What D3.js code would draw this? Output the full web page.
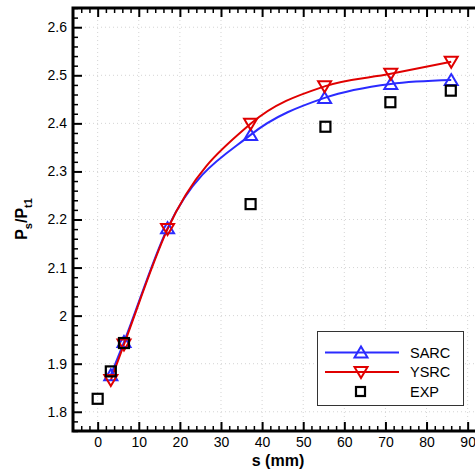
<!DOCTYPE html>
<html>
<head>
<meta charset="utf-8">
<script src="https://cdn.jsdelivr.net/npm/d3@7"></script>
<style>
  body { margin: 0; background: #fff }
  svg { display: block; font-family: 'Liberation Sans', Arial, sans-serif }
</style>
</head>
<body>
<svg id="chart" width="475" height="471"></svg>
<script>
const sarcS = [3.2, 6.4, 17.0, 37.2, 55.2, 71.3, 86.0]
const sarcP = [1.876, 1.945, 2.182, 2.376, 2.453, 2.482, 2.490]

const ysrcS = [3.2, 6.4, 17.0, 37.2, 55.2, 71.3, 86.0]
const ysrcP = [1.866, 1.940, 2.180, 2.399, 2.477, 2.503, 2.528]

const expS = [0, 3.2, 6.4, 37.2, 55.4, 71.2, 85.9]
const expP = [1.827, 1.884, 1.943, 2.232, 2.393, 2.444, 2.468]

const xTicks = [0, 10, 20, 30, 40, 50, 60, 70, 80, 90]
const yTicks = [1.8, 1.9, 2.0, 2.1, 2.2, 2.3, 2.4, 2.5, 2.6]
const legendNames = ['SARC', 'YSRC', 'EXP']

const svg = d3.select('#chart')
const plotLeft = 73
const plotTop = 8
const plotBottom = 431
const x = d3.scaleLinear().domain([-6, 96]).range([plotLeft, plotLeft + 102 * 4.111])
const y = d3.scaleLinear().domain([1.76, 2.64]).range([plotBottom, plotTop])
const plotRight = x.range()[1]

// dotted grid at major ticks
const grid = svg.append('g')
  .attr('stroke', '#d4d4d4')
  .attr('stroke-width', 1)
  .attr('stroke-dasharray', '1,3')
grid.selectAll('.gx').data(xTicks).enter().append('line')
  .attr('x1', d => x(d)).attr('x2', d => x(d))
  .attr('y1', plotTop).attr('y2', plotBottom)
grid.selectAll('.gy').data(yTicks).enter().append('line')
  .attr('x1', plotLeft).attr('x2', plotRight)
  .attr('y1', d => y(d)).attr('y2', d => y(d))

const fmt = d => d3.format('.1f')(d).replace(/\.0$/, '')
const xMinor = d3.range(-4, 96, 2).filter(v => v % 10 !== 0)
const yMinor = d3.range(1.76, 2.645, 0.02).map(v => +v.toFixed(2)).filter(v => Math.abs(v * 10 - Math.round(v * 10)) > 1e-6)

function styleAxis (g) {
  g.select('.domain').remove()
  g.selectAll('.tick line').attr('stroke', '#000').attr('stroke-width', 2)
  g.selectAll('.tick text').attr('fill', '#000').style('font-size', '14px')
}

function minorAxis (axis, scale, vals) {
  return axis(scale).tickValues(vals).tickSize(-5).tickFormat('')
}

// bottom axis
svg.append('g').attr('transform', `translate(0,${plotBottom})`)
  .call(minorAxis(d3.axisBottom, x, xMinor)).call(styleAxis)
  .selectAll('.tick line').attr('stroke-width', 1.5)
svg.append('g').attr('transform', `translate(0,${plotBottom})`)
  .call(d3.axisBottom(x).tickValues(xTicks).tickSize(-9).tickPadding(6).tickFormat(d3.format('d')))
  .call(styleAxis)

// top axis
svg.append('g').attr('transform', `translate(0,${plotTop})`)
  .call(minorAxis(d3.axisTop, x, xMinor)).call(styleAxis)
  .selectAll('.tick line').attr('stroke-width', 1.5)
svg.append('g').attr('transform', `translate(0,${plotTop})`)
  .call(d3.axisTop(x).tickValues(xTicks).tickSize(-9).tickFormat(''))
  .call(styleAxis)

// left axis
svg.append('g').attr('transform', `translate(${plotLeft},0)`)
  .call(minorAxis(d3.axisLeft, y, yMinor)).call(styleAxis)
  .selectAll('.tick line').attr('stroke-width', 1.5)
svg.append('g').attr('transform', `translate(${plotLeft},0)`)
  .call(d3.axisLeft(y).tickValues(yTicks).tickSize(-9).tickPadding(6).tickFormat(fmt))
  .call(styleAxis)

// frame lines
svg.append('path')
  .attr('d', `M${plotRight},${plotTop}H${plotLeft}V${plotBottom}H${plotRight}`)
  .attr('fill', 'none').attr('stroke', '#000').attr('stroke-width', 3)

const line = d3.line().x(d => x(d[0])).y(d => y(d[1])).curve(d3.curveMonotoneX)
const sarc = d3.zip(sarcS, sarcP)
const ysrc = d3.zip(ysrcS, ysrcP)
const exp = d3.zip(expS, expP)

svg.append('path').datum(sarc).attr('d', line)
  .attr('fill', 'none').attr('stroke', '#2b2bff').attr('stroke-width', 2)
svg.append('path').datum(ysrc).attr('d', line)
  .attr('fill', 'none').attr('stroke', '#e00000').attr('stroke-width', 2)

const triUp = 'M0,-6L6.5,5L-6.5,5Z'
const triDown = 'M0,6L6.5,-5L-6.5,-5Z'

svg.append('g').selectAll('path').data(sarc).enter().append('path')
  .attr('transform', d => `translate(${x(d[0])},${y(d[1])})`)
  .attr('d', triUp).attr('fill', 'none').attr('stroke', '#2b2bff').attr('stroke-width', 2)
svg.append('g').selectAll('path').data(ysrc).enter().append('path')
  .attr('transform', d => `translate(${x(d[0])},${y(d[1])})`)
  .attr('d', triDown).attr('fill', 'none').attr('stroke', '#e00000').attr('stroke-width', 2)
svg.append('g').selectAll('rect').data(exp).enter().append('rect')
  .attr('x', d => x(d[0]) - 5).attr('y', d => y(d[1]) - 5)
  .attr('width', 10).attr('height', 10)
  .attr('fill', 'none').attr('stroke', '#000').attr('stroke-width', 2.2)

// legend
const legend = svg.append('g')
legend.append('rect')
  .attr('x', 317.5).attr('y', 331.5).attr('width', 146).attr('height', 74)
  .attr('fill', '#fff').attr('stroke', '#333').attr('stroke-width', 1)
const legendColors = ['#2b2bff', '#e00000', '#000']
const legendMarks = [triUp, triDown, null]
legendNames.forEach((name, i) => {
  const ly = 352.5 + i * 19.5
  const c = legendColors[i]
  if (legendMarks[i]) {
    legend.append('line').attr('x1', 325).attr('x2', 399).attr('y1', ly).attr('y2', ly)
      .attr('stroke', c).attr('stroke-width', 2)
    legend.append('path').attr('transform', `translate(361,${ly})`).attr('d', legendMarks[i])
      .attr('fill', 'none').attr('stroke', c).attr('stroke-width', 2)
  } else {
    legend.append('rect').attr('x', 356).attr('y', ly - 4.5).attr('width', 9).attr('height', 9)
      .attr('fill', 'none').attr('stroke', c).attr('stroke-width', 2.2)
  }
  legend.append('text').attr('x', 410).attr('y', ly + 5)
    .style('font-size', '14.5px').attr('fill', '#000').text(name)
})

// axis titles
svg.append('text').attr('x', 278).attr('y', 466).attr('text-anchor', 'middle')
  .style('font-size', '16px').style('font-weight', 'bold').text('s (mm)')

const yTitle = svg.append('text')
  .attr('transform', 'translate(27,219) rotate(-90)')
  .attr('text-anchor', 'middle')
  .style('font-size', '16px').style('font-weight', 'bold')
yTitle.append('tspan').text('P')
yTitle.append('tspan').attr('dy', 5).style('font-size', '11px').text('s')
yTitle.append('tspan').attr('dy', -5).text('/P')
yTitle.append('tspan').attr('dy', 5).style('font-size', '11px').text('t1')
</script>
</body>
</html>
